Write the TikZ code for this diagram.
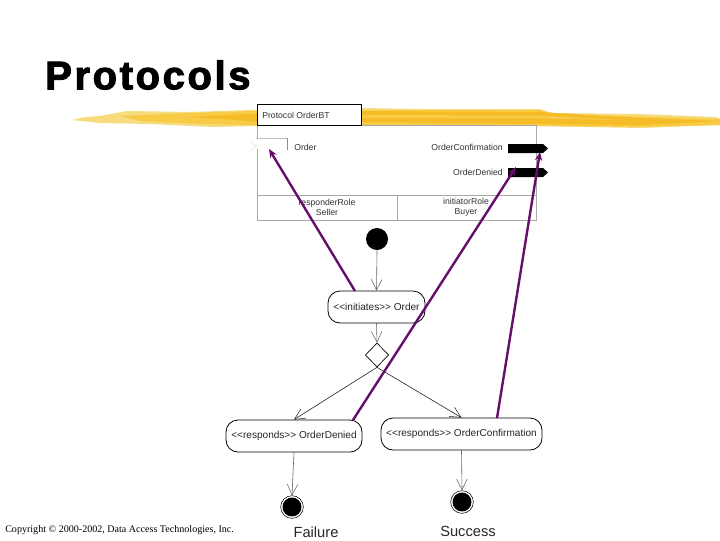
\documentclass[tikz,border=0pt]{standalone}
\usepackage{fontspec}
\setmainfont{Liberation Sans}[Ligatures=NoCommon]
\newfontfamily\copyfont{Liberation Serif}
\newfontfamily\titlefont{Liberation Sans}[BoldFeatures={FakeBold=2.5,LetterSpace=6.5}]
\usetikzlibrary{arrows.meta,shapes.geometric}
\definecolor{brushA}{HTML}{F6DC7E}
\definecolor{brushB}{HTML}{F7CB45}
\definecolor{brushC}{HTML}{F5BC28}
\definecolor{plum}{HTML}{650F6B}
\definecolor{frameg}{HTML}{A8A8A8}
\tikzset{
  x=0.75pt,y=-0.75pt,
  small/.style={font=\fontsize{6.5}{7.6}\selectfont,inner sep=0pt,align=center,text=black!80},
  statebox/.style={draw=black,line width=0.6pt,rounded corners=9pt,fill=white,inner sep=0pt,
     font=\fontsize{7.55}{8}\selectfont,text=black!85},
  flow/.style={draw=black!60,line width=0.45pt,-{Straight Barb[length=8pt,width=8pt,line width=0.4pt]}},
  flowd/.style={draw=black!85,line width=0.45pt,-{Straight Barb[length=8pt,width=8pt,line width=0.4pt]}},
  trace/.style={draw=plum,line width=1.8pt,-{Stealth[length=6.5pt,width=5.5pt]}},
  startdot/.style={circle,fill=black,inner sep=0pt,minimum size=16.5pt},
  enddot/.style={circle,draw=black,line width=0.4pt,fill=white,inner sep=0pt,minimum size=17pt,
     path picture={\fill[black] (path picture bounding box.center) circle (7.1pt);}},
  msg/.style={fill=black,draw=none},
  biglabel/.style={font=\fontsize{11}{13}\selectfont,inner sep=0pt,text=black!85},
}
\begin{document}
\begin{tikzpicture}
\useasboundingbox (0,0) rectangle (720,540);
\fill[white] (0,0) rectangle (720,540);
% brush stroke
\fill[brushA] (72,120) -- (85,117) -- (100,116) -- (127,111) -- (190,112) -- (250,110) -- (362,108) -- (420,109)
  -- (540,109) -- (552,113) -- (640,114) -- (716,117) -- (720,119) -- (720,125) -- (640,128) -- (540,126) -- (420,125)
  -- (300,125) -- (213,127) -- (150,124) -- (100,123) -- cycle;
\fill[brushB] (120,116) -- (190,113) -- (250,111) -- (420,110) -- (540,110) -- (552,114) -- (720,119) -- (720,125) -- (640,127)
  -- (420,125) -- (250,125) -- (200,124) -- (140,121) -- cycle;
\fill[brushC] (190,117) -- (250,114) -- (362,111) -- (540,112) -- (640,118) -- (720,121) -- (640,125) -- (540,124) -- (362,122) -- (250,121) -- cycle;
\fill[brushB] (362,115) -- (540,115.5) -- (620,120) -- (540,118.5) -- (362,118) -- cycle;
\node[anchor=west,inner sep=0pt,font=\fontsize{30}{34}\selectfont\titlefont\bfseries] (title) at (45,75) {Protocols};
% protocol box
\node[draw=frameg,line width=0.5pt,fill=white,minimum width=209.25pt,minimum height=71.25pt,inner sep=0pt] (frame) at (396.5,172.5) {};
\node[draw=black,line width=0.6pt,fill=white,minimum width=78pt,minimum height=15.75pt,inner sep=0pt] (head) at (309,114.5) {};
\node[small,anchor=west] (headt) at (262,115) {Protocol OrderBT};
\coordinate (divL) at (257,195);
\coordinate (divR) at (536,195);
\coordinate (divT) at (397,195);
\coordinate (divB) at (397,220);
\draw[frameg,line width=0.5pt] (divL) -- (divR);
\draw[frameg,line width=0.5pt] (divT) -- (divB);
\node[fill=white,minimum width=23pt,minimum height=8pt,inner sep=0pt] (port) at (272,144) {};
\draw[black!25,line width=0.4pt] (port.north west) -- (port.north east);
\draw[black!45,line width=0.4pt] (port.north east) -- (port.south east);
\draw[black!12,line width=0.4pt] (250,141) -- (256,146) -- (250,151);
\node[small,anchor=west] (order) at (294,147) {Order};
\node[small,anchor=east] (oc) at (503,147) {OrderConfirmation};
\node[small,anchor=east] (od) at (503,172) {OrderDenied};
\fill[msg] (508,144) -- (543,144) -- (548,148.5) -- (543,153) -- (508,153) -- cycle;
\fill[msg] (508,168) -- (543,168) -- (548,172.5) -- (543,177) -- (508,177) -- cycle;
\node[small] (resp) at (327,207) {responderRole\\Seller};
\node[small] (init) at (466,207) {initiatorRole\\Buyer};
% activity
\node[startdot] (start) at (377,239) {};
\node[statebox,minimum width=72.75pt,minimum height=24pt] (initiates) at (376.5,307) {{<}{<}initiates{>}{>} Order};
\node[diamond,draw=black,line width=0.5pt,fill=white,aspect=1,inner sep=0pt,minimum width=17.5pt,minimum height=18pt] (choice) at (377,355) {};
\node[statebox,minimum width=102pt,minimum height=24pt] (denied) at (294,436) {{<}{<}responds{>}{>} OrderDenied};
\node[statebox,minimum width=120.75pt,minimum height=24pt] (confirm) at (461.5,434) {{<}{<}responds{>}{>} OrderConfirmation};
\node[enddot] (fail) at (292,507) {};
\node[enddot] (succ) at (462,502) {};
\node[biglabel] (faillab) at (316,532) {Failure};
\node[biglabel] (succlab) at (468,531) {Success};
\draw[flow] (start.south) -- (initiates.north);
\draw[flow] (initiates.south) -- (choice.north);
\draw[flowd] (choice.south) -- (denied.north);
\draw[flowd] (choice.south) -- (confirm.north);
\draw[flow] (denied.south) -- (fail.north);
\draw[flow] (confirm.south) -- (succ.north);
% traces
\coordinate (t1s) at (355,291);
\coordinate (t1e) at (269,149);
\coordinate (t2s) at (353,420);
\coordinate (t2e) at (516,167);
\coordinate (t3s) at (497,418);
\coordinate (t3e) at (540,152);
\draw[trace] (t1s) -- (t1e);
\draw[trace] (t2s) -- (t2e);
\draw[trace] (t3s) -- (t3e);
\node[anchor=west,inner sep=0pt,font=\fontsize{7.55}{9}\selectfont\copyfont] (copy) at (5,530) {Copyright © 2000-2002, Data Access Technologies, Inc.};
\end{tikzpicture}
\end{document}
